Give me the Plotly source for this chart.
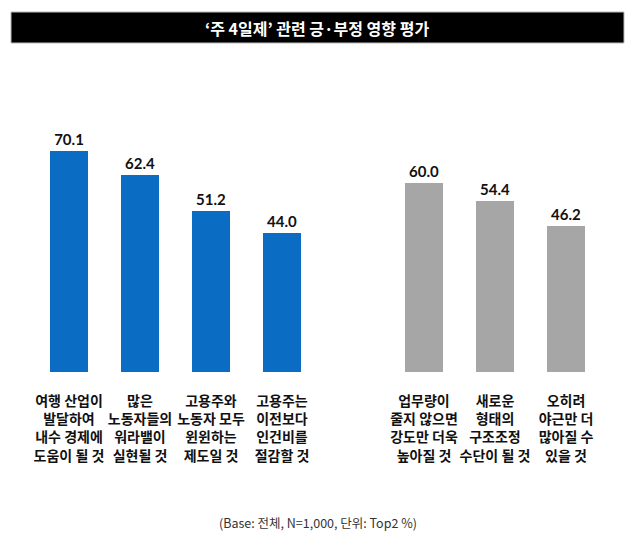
import plotly.graph_objects as go

# data
pos_labels = ["여행 산업이<br>발달하여<br>내수 경제에<br>도움이 될 것",
              "많은<br>노동자들의<br>워라밸이<br>실현될 것",
              "고용주와<br>노동자 모두<br>윈윈하는<br>제도일 것",
              "고용주는<br>이전보다<br>인건비를<br>절감할 것"]
pos_values = [70.1, 62.4, 51.2, 44.0]
neg_labels = ["업무량이<br>줄지 않으면<br>강도만 더욱<br>높아질 것",
              "새로운<br>형태의<br>구조조정<br>수단이 될 것",
              "오히려<br>야근만 더<br>많아질 수<br>있을 것"]
neg_values = [60.0, 54.4, 46.2]

title = "‘주 4일제’ 관련 긍·부정 영향 평가"
note = "(Base: 전체, N=1,000, 단위: Top2 %)"

pos_x = [0, 1, 2, 3]
neg_x = [5, 6, 7]

font_kr = "Noto Sans CJK KR"

# page body has an 8px margin, so the figure is drawn 8px smaller
W, H = 626, 529
top, bottom = 52, 165
ph = H - top - bottom


def py(p):
    # pixel row in the figure -> paper y
    return 1 + (top - p) / ph


fig = go.Figure()
fig.add_trace(go.Bar(x=pos_x, y=pos_values, width=0.53,
                     marker=dict(color="#0b6cc4", line=dict(width=0)),
                     texttemplate="%{y:.1f}", textposition="outside",
                     textfont=dict(family="Lato", size=15, color="#111", weight="bold"),
                     cliponaxis=False))
fig.add_trace(go.Bar(x=neg_x, y=neg_values, width=0.53,
                     marker=dict(color="#a6a6a6", line=dict(width=0)),
                     texttemplate="%{y:.1f}", textposition="outside",
                     textfont=dict(family="Lato", size=15, color="#111", weight="bold"),
                     cliponaxis=False))

fig.update_xaxes(range=[-0.859, 7.958], tickvals=pos_x + neg_x,
                 ticktext=pos_labels + neg_labels, showgrid=False,
                 zeroline=False, showline=False, ticks="", tickangle=0,
                 tickfont=dict(family=font_kr, size=14, color="#111", weight="bold"),
                 ticklabelstandoff=19)
fig.update_yaxes(range=[0, 99.05], visible=False)

# title bar
fig.add_shape(type="rect", xref="paper", yref="paper",
              x0=3/W, x1=616/W, y0=py(35), y1=py(4),
              fillcolor="black", line=dict(color="#bbbbbb", width=1))
fig.add_annotation(text=title, xref="paper", yref="paper", x=309/W,
                   y=py(20), yanchor="middle", showarrow=False,
                   font=dict(family=font_kr, size=16, color="white", weight="bold"))
fig.add_annotation(text=note, xref="paper", yref="paper", x=310/W,
                   y=py(514), yanchor="middle", showarrow=False,
                   font=dict(family=font_kr, size=12.5, color="#333"))

fig.update_layout(width=W, height=H, showlegend=False,
                  margin=dict(l=0, r=0, t=top, b=bottom),
                  paper_bgcolor="white", plot_bgcolor="white",
                  bargap=0)

fig.write_html("out.html")
